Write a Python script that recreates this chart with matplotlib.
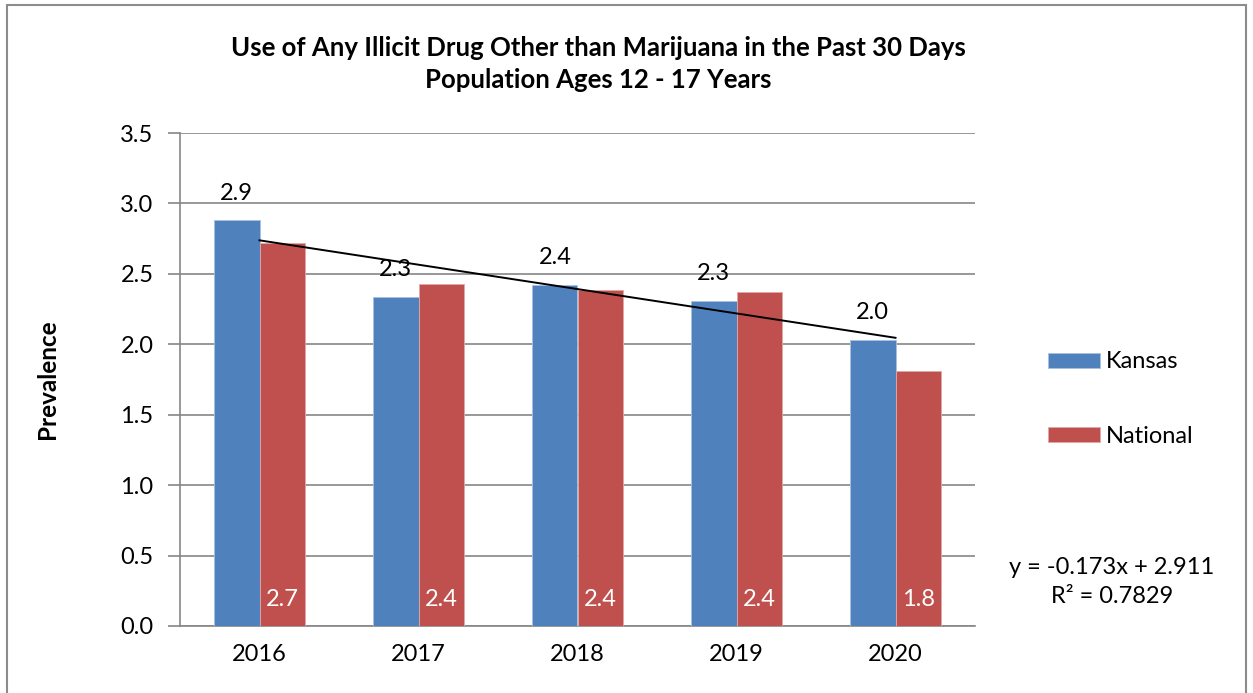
import matplotlib
matplotlib.use("Agg")
import matplotlib.pyplot as plt
import numpy as np
from matplotlib.patches import Rectangle

years = ["2016", "2017", "2018", "2019", "2020"]
kansas = [2.88, 2.335, 2.42, 2.31, 2.03]
national = [2.72, 2.43, 2.385, 2.37, 1.81]
kansas_labels = ["2.9", "2.3", "2.4", "2.3", "2.0"]
national_labels = ["2.7", "2.4", "2.4", "2.4", "1.8"]
trend_slope = -0.173
trend_intercept = 2.911
eq_text = "y = -0.173x + 2.911\nR² = 0.7829"

plt.rcParams['font.family'] = ['Lato', 'DejaVu Sans']

W, H = 1253, 693
fig = plt.figure(figsize=(W / 100, H / 100), dpi=100)
fig.patch.set_facecolor("white")
fig.patches.append(Rectangle((7 / W, -0.05), (1246 - 7) / W, 1.05 - 5 / H, transform=fig.transFigure,
                             fill=False, edgecolor="#8c8c8c", linewidth=1.5))

ax = fig.add_axes([180 / W, 1 - 626 / H, (975 - 180) / W, (626 - 133) / H])
blue = "#4F81BD"
red = "#C0504D"
x = np.arange(len(years))
w = 0.285
ax.bar(x - w / 2, kansas, w, color=blue, edgecolor="#a9c1e0", linewidth=0.6, label="Kansas", zorder=3)
ax.bar(x + w / 2, national, w, color=red, edgecolor="#e0a9a8", linewidth=0.6, label="National", zorder=3)

fs = 17
for i in range(len(years)):
    ax.annotate(kansas_labels[i], (x[i] - w / 2, kansas[i]), xytext=(0, 12), textcoords="offset points",
                ha="center", va="bottom", fontsize=fs, color="black", zorder=5)
    ax.text(x[i] + w / 2, 0.19, national_labels[i], ha="center", va="center", fontsize=fs,
            color="white", zorder=5)

xt = np.array([0, len(years) - 1])
ax.plot(xt, trend_slope * (xt + 1) + trend_intercept, color="black", linewidth=1.4, zorder=4)

ax.set_xlim(-0.5, len(years) - 0.5)
ax.set_ylim(0, 3.5)
ax.set_yticks(np.arange(0, 3.51, 0.5))
ax.set_yticklabels([f"{v:.1f}" for v in np.arange(0, 3.51, 0.5)], fontsize=fs)
ax.set_xticks(x)
ax.set_xticklabels(years, fontsize=fs)
ax.tick_params(axis="x", length=0, pad=13)
ax.tick_params(axis="y", length=9, width=1.2, color="#868686", pad=10)
ax.yaxis.grid(True, color="#868686", linewidth=1.2, zorder=0)
ax.set_axisbelow(True)
for s in ["top", "right"]:
    ax.spines[s].set_visible(False)
for s in ["left", "bottom"]:
    ax.spines[s].set_color("#868686")
    ax.spines[s].set_linewidth(1.2)

ax.set_ylabel("Prevalence", fontsize=17.5, fontweight="bold", labelpad=44)

fig.text(598 / W, 1 - 64 / H, "Use of Any Illicit Drug Other than Marijuana in the Past 30 Days\nPopulation Ages 12 - 17 Years",
         ha="center", va="center", fontsize=18.5, fontweight="bold", linespacing=1.4)

leg = fig.legend(handles=[ax.containers[0], ax.containers[1]], labels=["Kansas", "National"],
                 loc="center left", bbox_to_anchor=(1048 / W, 1 - 399 / H), frameon=False, fontsize=fs,
                 handlelength=2.2, handleheight=0.6, handletextpad=0.25, labelspacing=2.25,
                 borderpad=0, borderaxespad=0)

fig.text(1112 / W, 1 - 582 / H, eq_text, ha="center", va="center", fontsize=fs, linespacing=1.45)

fig.savefig("out.png", dpi=100)
